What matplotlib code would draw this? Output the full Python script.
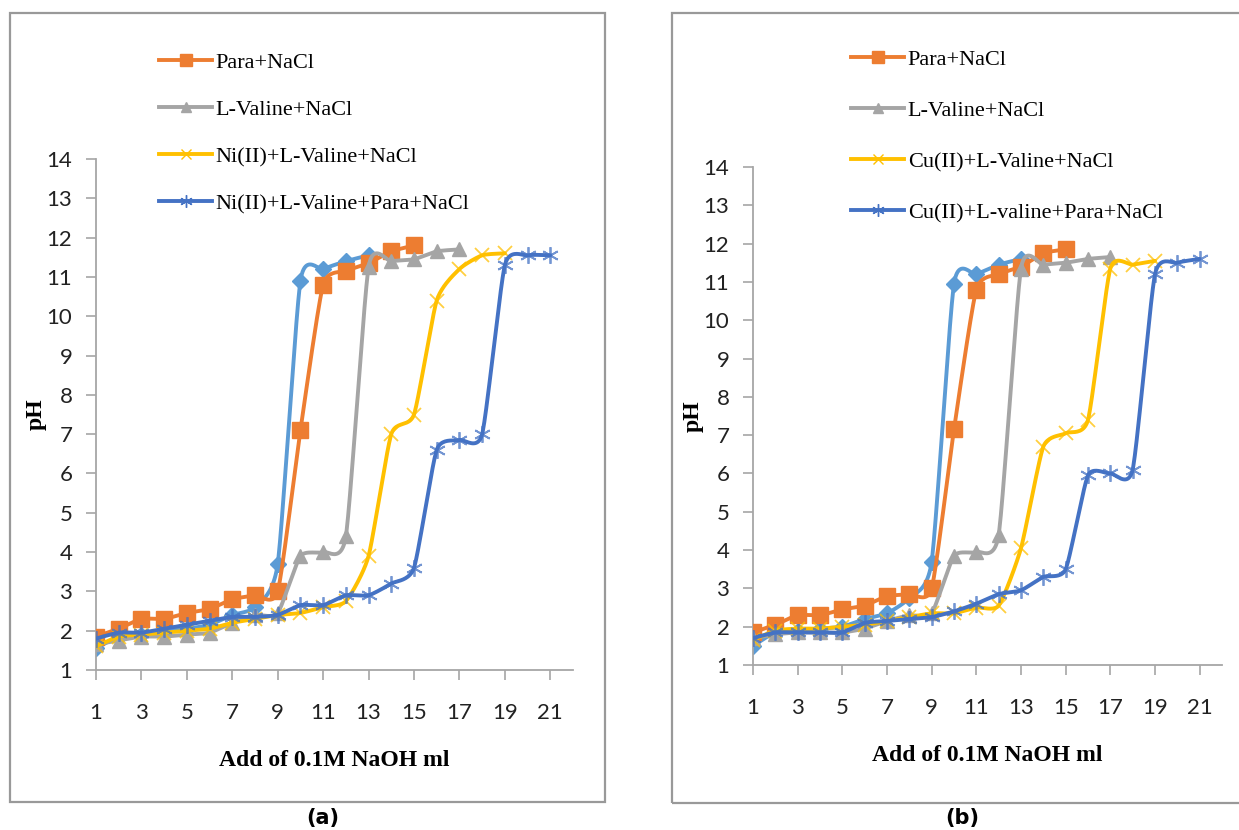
import numpy as np
import matplotlib.pyplot as plt
from matplotlib.patches import Rectangle

## Datos (pH vs ml de NaOH 0.1M)
#%%
# panel (a)
a_serie0 = [1.55, 1.85, 1.9, 2.0, 2.05, 2.15, 2.4, 2.6, 3.7, 10.9, 11.2, 11.4, 11.55]
a_para = [1.85, 2.05, 2.3, 2.3, 2.45, 2.55, 2.8, 2.9, 3.0, 7.1, 10.8, 11.15, 11.35, 11.65, 11.8]
a_lval = [1.65, 1.75, 1.85, 1.85, 1.9, 1.95, 2.2, 2.4, 2.45, 3.9, 4.0, 4.4, 11.25, 11.4, 11.45,
          11.65, 11.7]
a_met_lval = [1.6, 1.85, 1.9, 1.95, 2.0, 2.05, 2.2, 2.3, 2.4, 2.45, 2.6, 2.75, 3.9, 7.0, 7.5, 10.4,
              11.2, 11.55, 11.6]
a_met_lval_para = [1.8, 1.95, 1.95, 2.05, 2.15, 2.25, 2.35, 2.35, 2.4, 2.65, 2.65, 2.9, 2.9, 3.2,
                   3.6, 6.6, 6.85, 7.0, 11.3, 11.55, 11.55]

# panel (b)
b_serie0 = [1.5, 1.85, 1.9, 1.95, 2.0, 2.2, 2.35, 2.75, 3.7, 10.95, 11.2, 11.45, 11.6]
b_para = [1.85, 2.05, 2.3, 2.3, 2.45, 2.55, 2.8, 2.85, 3.0, 7.15, 10.8, 11.2, 11.4, 11.75, 11.85]
b_lval = [1.7, 1.8, 1.85, 1.85, 1.85, 1.95, 2.15, 2.3, 2.35, 3.85, 3.95, 4.4, 11.35, 11.45, 11.5,
          11.6, 11.65]
b_met_lval = [1.65, 1.9, 1.95, 1.95, 2.0, 2.05, 2.15, 2.25, 2.35, 2.35, 2.5, 2.55, 4.05, 6.7, 7.05,
              7.4, 11.35, 11.45, 11.55]
b_met_lval_para = [1.7, 1.85, 1.85, 1.85, 1.85, 2.1, 2.15, 2.2, 2.25, 2.4, 2.6, 2.85, 2.95, 3.3,
                   3.5, 5.95, 6.0, 6.1, 11.2, 11.5, 11.6]

etiquetas_a = ['Para+NaCl', 'L-Valine+NaCl', 'Ni(II)+L-Valine+NaCl', 'Ni(II)+L-Valine+Para+NaCl']
etiquetas_b = ['Para+NaCl', 'L-Valine+NaCl', 'Cu(II)+L-Valine+NaCl', 'Cu(II)+L-valine+Para+NaCl']

colores = ['#5B9BD5', '#ED7D31', '#A5A5A5', '#FFC000', '#4472C4']
marcas = ['D', 's', '^', 'x', (6, 2, 0)]
tamanos = [8, 11, 10, 10, 12]

W, H = 1239, 830


## Linea suavizada estilo Excel (solo para dibujar)
#%%
def suave(x, y, n=24, f=10.0):
    x = np.asarray(x, float)
    y = np.asarray(y, float)
    px = np.concatenate([[x[0]], x, [x[-1]]])
    py = np.concatenate([[y[0]], y, [y[-1]]])
    t = np.linspace(0, 1, n)[:, None]
    xs, ys = [], []
    for i in range(1, len(px) - 2):
        p0 = np.array([px[i], py[i]])
        p3 = np.array([px[i + 1], py[i + 1]])
        c1 = p0 + (p3 - np.array([px[i - 1], py[i - 1]])) / f
        c2 = p3 - (np.array([px[i + 2], py[i + 2]]) - p0) / f
        b = (1 - t) ** 3 * p0 + 3 * (1 - t) ** 2 * t * c1 + 3 * (1 - t) * t ** 2 * c2 + t ** 3 * p3
        xs.append(b[:, 0])
        ys.append(b[:, 1])
    return np.concatenate(xs), np.concatenate(ys)


def eje(fig, rect, series, etiquetas, ley_pos, ley_esp):
    ax = fig.add_axes(rect)
    lineas = []
    for k, y in enumerate(series):
        x = np.arange(1, len(y) + 1)
        sx, sy = suave(x, y)
        ax.plot(sx, sy, color=colores[k], lw=2.8, solid_capstyle='round', zorder=2 + k)
        mk = marcas[k]
        if k >= 3:
            ax.plot(x, y, ls='none', marker=mk, ms=tamanos[k], mec=colores[k], mew=1.3,
                    alpha=0.75, zorder=2 + k)
        else:
            ax.plot(x, y, ls='none', marker=mk, ms=tamanos[k], mfc=colores[k], mec=colores[k],
                    zorder=2 + k)
        h, = ax.plot([], [], color=colores[k], lw=2.8, marker=mk, ms=tamanos[k] * 0.75,
                     mfc=colores[k], mec=colores[k])
        lineas.append(h)

    ax.set_xlim(1, 22)
    ax.set_ylim(1, 14)
    ax.set_xticks(np.arange(1, 22, 2))
    ax.set_yticks(np.arange(1, 15))
    for s in ['top', 'right']:
        ax.spines[s].set_visible(False)
    for s in ['left', 'bottom']:
        ax.spines[s].set_color('#A6A6A6')
        ax.spines[s].set_linewidth(1.3)
    ax.tick_params(direction='out', length=7, width=1.2, color='#A6A6A6',
                   labelsize=16, labelcolor='#222222')
    ax.tick_params(axis='x', pad=17)
    ax.tick_params(axis='y', pad=10)
    for lb in ax.get_xticklabels() + ax.get_yticklabels():
        lb.set_fontfamily('Lato')
    ax.set_ylabel('pH', family='Liberation Serif', fontweight='bold', fontsize=17, labelpad=0)
    ax.set_xlabel('Add of 0.1M NaOH ml', family='Liberation Serif', fontweight='bold',
                  fontsize=17, labelpad=19)

    fig.legend(lineas[1:], etiquetas, loc='upper left', bbox_to_anchor=ley_pos,
               frameon=False, handlelength=2.4, handletextpad=0.15, labelspacing=ley_esp,
               prop={'family': 'Liberation Serif', 'size': 16})
    return ax


fig = plt.figure(figsize=(W / 100, H / 100), dpi=100)

# cajas de cada panel
fig.add_artist(Rectangle((10 / W, 1 - 802 / H), 595 / W, 789 / H, transform=fig.transFigure,
                         fill=False, ec='#999999', lw=1.6))
fig.add_artist(Rectangle((672 / W, 1 - 803 / H), 600 / W, 790 / H, transform=fig.transFigure,
                         fill=False, ec='#999999', lw=1.6))

eje(fig, [96 / W, 1 - 670 / H, (573 - 96) / W, (670 - 159) / H],
    [a_serie0, a_para, a_lval, a_met_lval, a_met_lval_para], etiquetas_a,
    (139 / W, 1 - 32 / H), 1.2)
eje(fig, [753 / W, 1 - 665 / H, (1222 - 753) / W, (665 - 167) / H],
    [b_serie0, b_para, b_lval, b_met_lval, b_met_lval_para], etiquetas_b,
    (831 / W, 1 - 29 / H), 1.38)

fig.text(323 / W, 1 - 818 / H, '(a)', ha='center', va='center', fontsize=15, fontweight='bold')
fig.text(962 / W, 1 - 818 / H, '(b)', ha='center', va='center', fontsize=15, fontweight='bold')

plt.savefig('out.png', dpi=100)
plt.close()
